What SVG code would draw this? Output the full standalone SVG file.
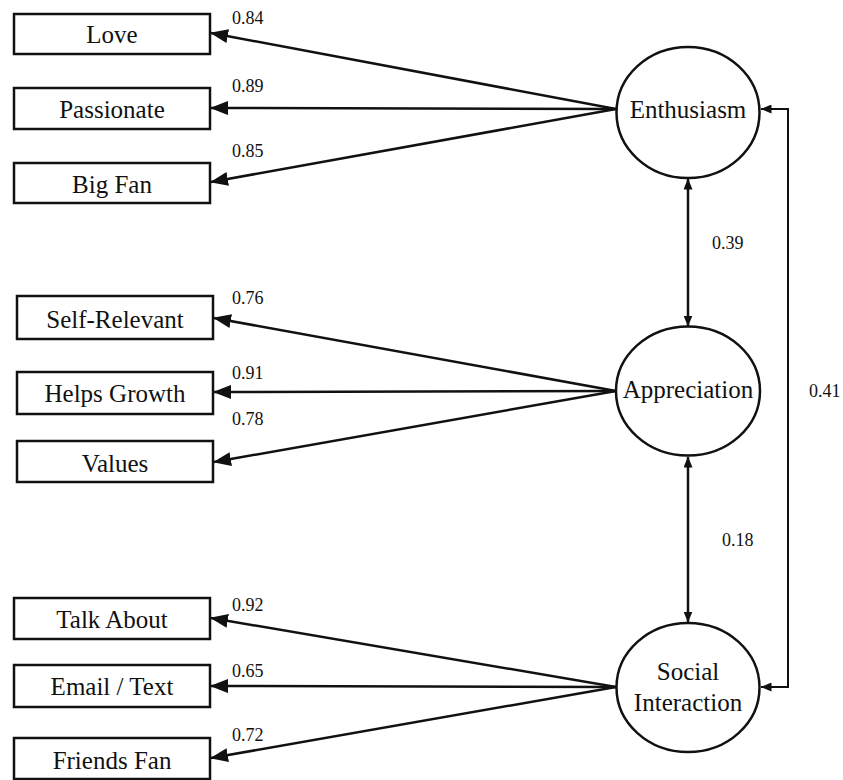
<svg xmlns="http://www.w3.org/2000/svg" width="843" height="780" viewBox="0 0 843 780" font-family="Liberation Serif, DejaVu Serif, serif">
<defs>
<style>
.box{fill:#fff;stroke:#111;stroke-width:2.5}
.lat{fill:#fff;stroke:#111;stroke-width:2.5}
.t{font-size:25px;fill:#111;text-anchor:middle}
.n{font-size:18px;fill:#111}
.ln{fill:none;stroke:#111;stroke-width:2.5}
.ln2{fill:none;stroke:#111;stroke-width:2}
</style>
<marker id="big" markerUnits="userSpaceOnUse" markerWidth="18" markerHeight="14" viewBox="0 0 18 14" refX="17" refY="7" orient="auto">
<path d="M0,0 L18,7 L0,14 Z" fill="#111"/>
</marker>
<marker id="sm" markerUnits="userSpaceOnUse" markerWidth="11" markerHeight="9" viewBox="0 0 11 9" refX="10.5" refY="4.5" orient="auto-start-reverse">
<path d="M0,0 L11,4.5 L0,9 Z" fill="#111"/>
</marker>
</defs>

<g id="connectors">
<line class="ln" x1="616" y1="109" x2="211" y2="33" marker-end="url(#big)"/>
<line class="ln" x1="616" y1="109" x2="211" y2="108" marker-end="url(#big)"/>
<line class="ln" x1="616" y1="109" x2="211" y2="182" marker-end="url(#big)"/>
<line class="ln" x1="616" y1="391" x2="214" y2="318" marker-end="url(#big)"/>
<line class="ln" x1="616" y1="391" x2="214" y2="392" marker-end="url(#big)"/>
<line class="ln" x1="616" y1="391" x2="214" y2="462" marker-end="url(#big)"/>
<line class="ln" x1="616" y1="687" x2="211" y2="618" marker-end="url(#big)"/>
<line class="ln" x1="616" y1="687" x2="211" y2="686" marker-end="url(#big)"/>
<line class="ln" x1="616" y1="687" x2="211" y2="758" marker-end="url(#big)"/>
<line class="ln" x1="688" y1="179" x2="688" y2="326" marker-start="url(#sm)" marker-end="url(#sm)"/>
<line class="ln" x1="688" y1="457" x2="688" y2="622" marker-start="url(#sm)" marker-end="url(#sm)"/>
<path class="ln2" d="M761,109 L788,109 L788,687 L761,687" marker-start="url(#sm)" marker-end="url(#sm)"/>
<text class="n" x="232" y="24">0.84</text>
<text class="n" x="232" y="92">0.89</text>
<text class="n" x="232" y="157">0.85</text>
<text class="n" x="712" y="249">0.39</text>
<text class="n" x="232" y="304">0.76</text>
<text class="n" x="232" y="379">0.91</text>
<text class="n" x="232" y="425">0.78</text>
<text class="n" x="809" y="397">0.41</text>
<text class="n" x="722" y="546">0.18</text>
<text class="n" x="232" y="611">0.92</text>
<text class="n" x="232" y="677">0.65</text>
<text class="n" x="232" y="741">0.72</text>
</g>

<g id="love"><rect class="box" x="14" y="14" width="196" height="40"/><text class="t" x="112" y="43">Love</text></g>
<g id="passionate"><rect class="box" x="14" y="88" width="196" height="41"/><text class="t" x="112" y="117.5">Passionate</text></g>
<g id="bigfan"><rect class="box" x="14" y="163" width="196" height="40"/><text class="t" x="112" y="192.5">Big Fan</text></g>

<g id="selfrelevant"><rect class="box" x="17" y="296" width="196" height="43"/><text class="t" x="115" y="328">Self-Relevant</text></g>
<g id="helpsgrowth"><rect class="box" x="17" y="372" width="196" height="42"/><text class="t" x="115" y="401.5">Helps Growth</text></g>
<g id="values"><rect class="box" x="17" y="441" width="196" height="41"/><text class="t" x="115" y="471.5">Values</text></g>

<g id="talkabout"><rect class="box" x="14" y="598" width="196" height="41"/><text class="t" x="112" y="628">Talk About</text></g>
<g id="emailtext"><rect class="box" x="14" y="665" width="196" height="42"/><text class="t" x="112" y="695">Email / Text</text></g>
<g id="friendsfan"><rect class="box" x="14" y="738" width="196" height="41"/><text class="t" x="112" y="769">Friends Fan</text></g>

<g id="enthusiasm"><ellipse class="lat" cx="688" cy="112.5" rx="71.5" ry="65.5"/><text class="t" x="688" y="118">Enthusiasm</text></g>
<g id="appreciation"><ellipse class="lat" cx="688" cy="391" rx="72" ry="64.5"/><text class="t" x="688" y="397.5">Appreciation</text></g>
<g id="social"><ellipse class="lat" cx="688" cy="687.5" rx="71.5" ry="64.5"/><text class="t" x="688" y="680">Social</text><text class="t" x="688" y="710.5">Interaction</text></g>
</svg>
